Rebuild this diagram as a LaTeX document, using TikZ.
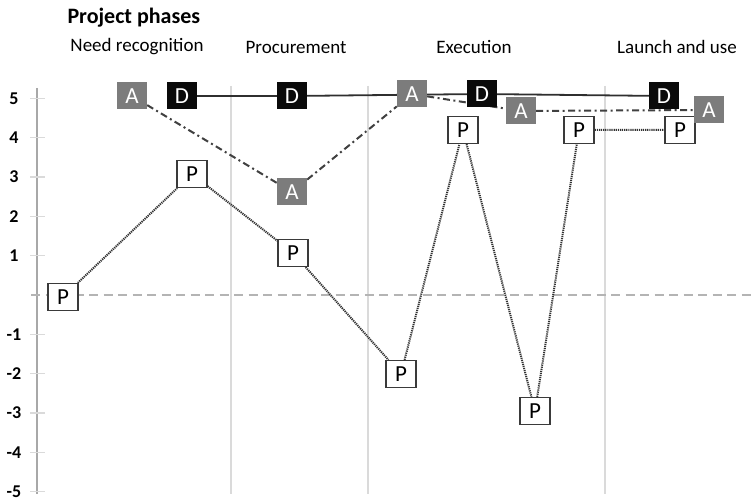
\documentclass[tikz,border=0pt]{standalone}
\usepackage{fontspec}
\setmainfont{Carlito}
\usetikzlibrary{backgrounds}
\definecolor{gridc}{HTML}{DADADA}
\definecolor{axisc}{HTML}{A8A8A8}
\definecolor{zeroc}{HTML}{B4B4B4}
\definecolor{agray}{HTML}{7C7C7C}
\definecolor{dblack}{HTML}{0A0A0A}
\definecolor{pline}{HTML}{3A3A3A}
\tikzset{
  boxbase/.style={minimum width=30pt, minimum height=27pt, inner sep=0pt, font=\fontsize{23}{23}\selectfont},
  abox/.style={boxbase, fill=agray, text=white},
  dbox/.style={boxbase, fill=dblack, text=white},
  pbox/.style={boxbase, fill=white, draw=pline, line width=1.3pt, text=black},
  dline/.style={draw=dblack!85, line width=1.8pt},
  aline/.style={draw=black!75, line width=2pt, dash pattern=on 7pt off 3.5pt on 2pt off 3.5pt},
  pdots/.style={draw=black!80, line width=2pt, dash pattern=on 1.2pt off 0.9pt},
  ticklab/.style={font=\fontsize{18}{18}\selectfont\bfseries, anchor=center},
  phase/.style={font=\fontsize{19}{19}\selectfont}
}
\begin{document}
\begin{tikzpicture}[x=1pt,y=-1pt]
\useasboundingbox (0,0) rectangle (754,502);
% headers
\node[font=\fontsize{22}{22}\selectfont\bfseries, anchor=west] (title) at (64,18) {Project phases};
\node[phase] (h1) at (137,47) {Need recognition};
\node[phase] (h2) at (296,47) {Procurement};
\node[phase] (h3) at (474,47) {Execution};
\node[phase] (h4) at (677,47) {Launch and use};
% tick labels
\foreach \v/\lab in {5/5,4/4,3/3,2/2,1/1,-1/-1,-2/-2,-3/-3,-4/-4,-5/-5}{
  \node[ticklab] (t\v) at (14,{295-39.3*\v}) {\lab};
}
% nodes
\node[pbox] (p1) at (63,297) {P};
\node[pbox] (p2) at (192,174) {P};
\node[pbox] (p3) at (293,253) {P};
\node[pbox] (p4) at (401,374) {P};
\node[pbox] (p5) at (463,130) {P};
\node[pbox] (p6) at (535,411) {P};
\node[pbox] (p7) at (579,130) {P};
\node[pbox] (p8) at (680,130) {P};
\node[dbox] (d1) at (182,96) {D};
\node[dbox] (d2) at (292,96) {D};
\node[dbox] (d3) at (482,94) {D};
\node[dbox] (d4) at (664,96) {D};
\node[abox] (a1) at (132,96) {A};
\node[abox] (a2) at (292,192) {A};
\node[abox] (a3) at (412,94) {A};
\node[abox] (a4) at (521,111) {A};
\node[abox] (a5) at (709,110) {A};
\begin{scope}[on background layer]
  \foreach \x in {231,368,605} \draw[gridc, line width=1.2pt] (\x,86) -- (\x,494);
  \draw[axisc, line width=1.4pt] (37,88) -- (37,494);
  \foreach \v in {5,4,3,2,1,-1,-2,-3,-4,-5} \draw[gridc, line width=1.4pt] (30,{295-39.3*\v}) -- (45,{295-39.3*\v});
  \coordinate (z0) at (31,295);
  \coordinate (z1) at (754,295);
  \draw[zeroc, line width=2pt, dash pattern=on 9pt off 5.5pt] (z0) -- (z1);
  \draw[dline] (d1) -- (d2) -- (d3) -- (d4);
  \draw[aline] (a1) -- (a2) -- (a3) -- (a4) -- (a5);
  \draw[pdots] (p1) -- (p2) -- (p3) -- (p4) -- (p5) -- (p6) -- (p7) -- (p8);
\end{scope}
\end{tikzpicture}
\end{document}
